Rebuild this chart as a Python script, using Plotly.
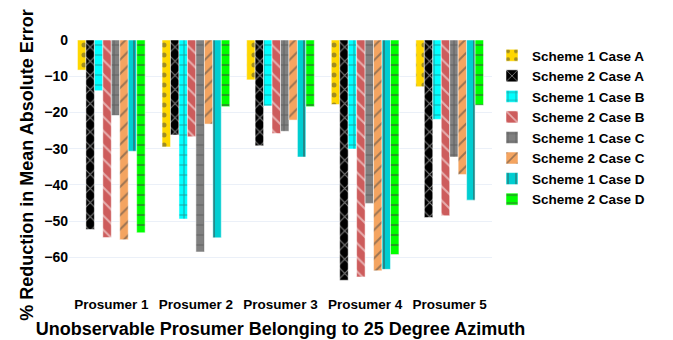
import plotly.graph_objects as go

categories = ["Prosumer 1", "Prosumer 2", "Prosumer 3", "Prosumer 4", "Prosumer 5"]

series_names = ["Scheme 1 Case A", "Scheme 2 Case A", "Scheme 1 Case B", "Scheme 2 Case B",
                "Scheme 1 Case C", "Scheme 2 Case C", "Scheme 1 Case D", "Scheme 2 Case D"]

s1_case_a = [-8.3, -29.5, -11.0, -17.8, -12.9]
s2_case_a = [-52.3, -26.2, -29.2, -66.3, -49.0]
s1_case_b = [-14.0, -49.4, -18.2, -30.1, -21.9]
s2_case_b = [-54.5, -26.7, -25.8, -65.4, -48.5]
s1_case_c = [-20.8, -58.5, -25.2, -45.1, -32.3]
s2_case_c = [-55.1, -23.2, -22.1, -63.7, -37.1]
s1_case_d = [-30.7, -54.6, -32.3, -63.3, -44.2]
s2_case_d = [-53.2, -18.4, -18.4, -59.2, -18.0]

series_values = [s1_case_a, s2_case_a, s1_case_b, s2_case_b,
                 s1_case_c, s2_case_c, s1_case_d, s2_case_d]

colors = ["gold", "black", "cyan", "indianred", "gray", "sandybrown", "darkturquoise", "lime"]
shapes = [".", "x", "+", "\\", "+", "/", "|", "-"]

fig = go.Figure()
for name, vals, col, shp in zip(series_names, series_values, colors, shapes):
    fig.add_trace(go.Bar(
        name=name, x=categories, y=vals,
        marker=dict(color=col, line=dict(color="white", width=0.5),
                    pattern=dict(shape=shp, fillmode="overlay")),
    ))

bold = dict(family="Arial", weight="bold", color="black")

fig.update_layout(
    template="plotly_white",
    width=673, height=340,
    barmode="group", bargap=0.2, bargroupgap=0,
    margin=dict(l=61, r=189, t=32, b=58),
    font=dict(family="Arial", color="black"),
    legend=dict(x=1.0, y=1.0, xanchor="left", yanchor="top",
                font=dict(size=13.5, **bold)),
    xaxis=dict(
        tickfont=dict(size=13.5, **bold),
        ticklabelstandoff=4,
        title=dict(text="Unobservable Prosumer Belonging to 25 Degree Azimuth",
                   font=dict(size=18, **bold), standoff=11),
        automargin=False,
    ),
    yaxis=dict(
        range=[-69, 0], dtick=10,
        tickfont=dict(size=14, **bold),
        title=dict(text="% Reduction in Mean Absolute Error",
                   font=dict(size=18, **bold), standoff=5),
        zeroline=False,
        automargin=False,
    ),
)

fig.write_html("out.html")
